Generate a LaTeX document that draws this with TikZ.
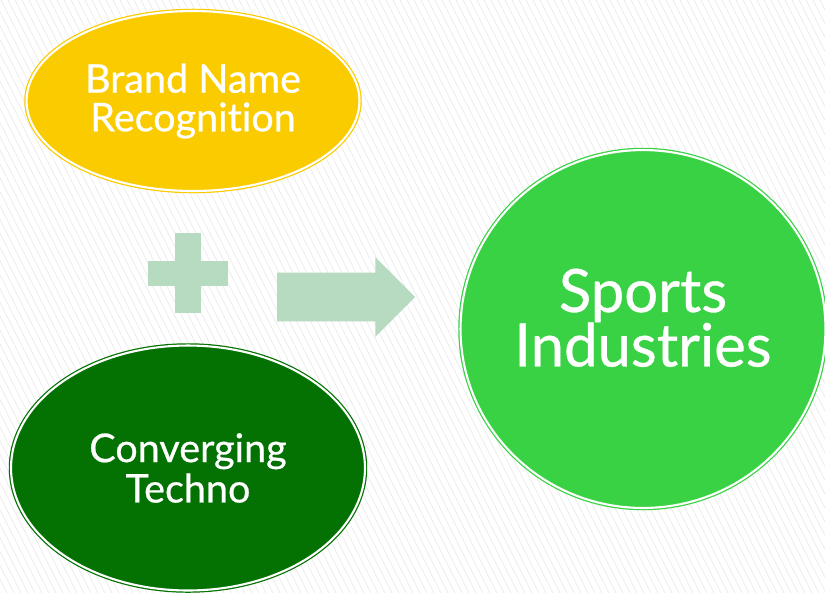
\documentclass[tikz,border=0pt]{standalone}
\usepackage{fontspec}
\newfontfamily\labelfont[FakeBold=0.6,Ligatures=CommonOff]{Lato}
\usepackage{xcolor}
\usetikzlibrary{shapes.geometric,shapes.arrows}

\definecolor{brandyellow}{HTML}{FACC00}
\definecolor{technogreen}{HTML}{037203}
\definecolor{sportsgreen}{HTML}{3AD245}
\definecolor{signgreen}{HTML}{B6DBC0}
\definecolor{stripegray}{HTML}{EBEBEB}

\begin{document}
\begin{tikzpicture}[x=0.02cm, y=-0.02cm,
    ball/.style={ellipse, inner sep=0pt, line width=0.7pt, double=white,
                 double distance=1.2pt, text=white, align=center},
    sign/.style={fill=signgreen, draw=none}]

\useasboundingbox (0,0) rectangle (825,593);
\fill[white] (0,0) rectangle (825,593);

% Faint stripes in the background
\begin{scope}
\clip (0,0) rectangle (825,593);
\foreach \x in {-300,-293,...,830}
    \draw[stripegray, line width=0.4pt] (\x,0) -- (\x+300,593);
\end{scope}

% The three balls
\node[ball, fill=brandyellow, draw=brandyellow, minimum width=6.66cm, minimum height=3.6cm,
      font=\labelfont\fontsize{22.5}{22}\selectfont] (brand) at (193,101) {Brand Name\\Recognition};
\node[ball, fill=technogreen, draw=technogreen, minimum width=7.08cm, minimum height=4.9cm,
      font=\labelfont\fontsize{22.5}{23}\selectfont] (techno) at (188,468) {Converging\\Techno};
\node[ball, fill=sportsgreen, draw=sportsgreen, minimum width=7.3cm, minimum height=7.16cm,
      font=\labelfont\fontsize{34}{31}\selectfont, text depth=13pt] (sports) at (643,329) {Sports\\Industries};

% Plus sign
\fill[sign] (175,233) rectangle (201,313);
\fill[sign] (148,261) rectangle (228,286);

% Block arrow
\node[single arrow, sign, minimum height=2.76cm, inner xsep=0pt, inner ysep=0.48cm,
      single arrow head extend=0.31cm] (plusarrow) at (334,297) {};

\end{tikzpicture}
\end{document}
